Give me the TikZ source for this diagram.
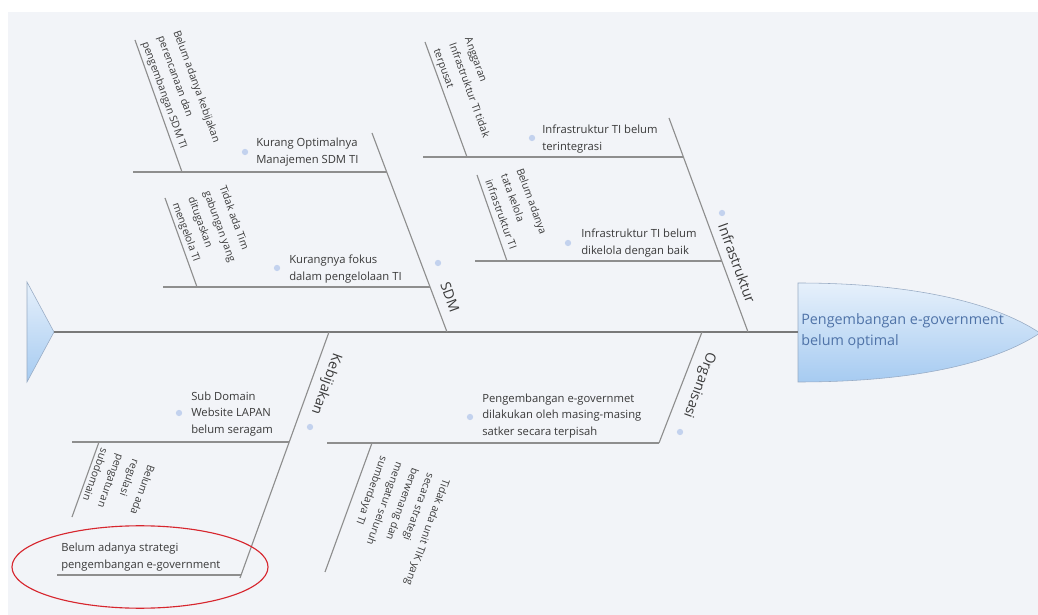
\documentclass[tikz,border=0pt]{standalone}
\usepackage{fontspec}
\setmainfont{Open Sans}
\usepackage{xcolor}
\usepackage{tikz}
\usetikzlibrary{positioning}

\definecolor{bgfish}{HTML}{F2F4F8}
\definecolor{bonegray}{HTML}{8E8E8E}
\definecolor{txtgray}{HTML}{3A3A3A}
\definecolor{dotblue}{HTML}{C3D2EE}
\definecolor{headtop}{HTML}{E6F0FB}
\definecolor{headbot}{HTML}{A6CBF1}
\definecolor{headline}{HTML}{98ABC4}
\definecolor{headtxt}{HTML}{4F73A8}
\definecolor{markred}{HTML}{D7262E}

\begin{document}
\begin{tikzpicture}[
  x=0.025cm, y=-0.025cm,
  bone/.style={draw=bonegray, line width=0.8pt},
  spine/.style={draw=bonegray!85!black, line width=1pt},
  cause/.style={font=\fontsize{8}{11.8}\selectfont, text=txtgray, align=left, anchor=west, inner sep=0pt},
  detail/.style={font=\fontsize{7.4}{11.8}\selectfont, text=txtgray, align=left, anchor=north west, inner sep=0pt},
  cat/.style={font=\fontsize{10}{12}\selectfont, text=txtgray, inner sep=0pt},
  dot/.style={circle, fill=dotblue, inner sep=0pt, minimum size=4.5pt},
  headlbl/.style={font=\fontsize{10.2}{15}\selectfont, text=headtxt, align=left, anchor=west, inner sep=0pt}
]
  \useasboundingbox (0,0) rectangle (1038,615);
  \fill[bgfish] (8,12) rectangle (1038,615);

  % tail and head of the fish
  \draw[draw=headline, top color=headtop, bottom color=headbot] (27,282) -- (54,332) -- (27,382) -- cycle;
  \draw[draw=headline, top color=headtop, bottom color=headbot]
    (798,283) .. controls (905,283) and (990,300) .. (1040,333)
    .. controls (990,366) and (905,382) .. (798,382) -- cycle;
  \coordinate (tail) at (54,332);
  \coordinate (head) at (798,332);
  \draw[spine] (tail) -- (head);
  \node[headlbl] (effect) at (801,331) {Pengembangan e-government\\belum optimal};

  % SDM bone
  \coordinate (sdmTop) at (372,133);
  \coordinate (sdmBase) at (447,332);
  \coordinate (s1l) at (133,172);  \coordinate (s1r) at (387,172);
  \coordinate (s2l) at (163,287);  \coordinate (s2r) at (430,287);
  \coordinate (d1t) at (135,40);   \coordinate (d1b) at (182,172);
  \coordinate (d2t) at (165,198);  \coordinate (d2b) at (197,287);
  \node[dot] (bs1) at (245,152) {};
  \node[cause] (c1) at (256,152) {Kurang Optimalnya\\Manajemen SDM TI};
  \node[dot] (bs2) at (277,268) {};
  \node[cause] (c2) at (289,269) {Kurangnya fokus\\dalam pengelolaan TI};
  \node[detail, rotate=-70] (t1) at (181,29) {Belum adanya kebijakan\\perencanaan dan\\pengembangan SDM TI};
  \node[detail, rotate=-70] (t2) at (227,184) {Tidak ada Tim\\gabungan yang\\ditugaskan\\mengelola TI};
  \node[dot] (bsdm) at (438,263) {};
  \node[cat, rotate=-70] (sdm) at (450,297) {SDM};

  % Infrastruktur bone
  \coordinate (infTop) at (669,118);
  \coordinate (infBase) at (748,332);
  \coordinate (i1l) at (423,157);  \coordinate (i1r) at (683,157);
  \coordinate (i2l) at (475,261);  \coordinate (i2r) at (722,261);
  \coordinate (d3t) at (425,42);   \coordinate (d3b) at (467,157);
  \coordinate (d4t) at (477,175);  \coordinate (d4b) at (507,261);
  \node[dot] (bi1) at (532,138) {};
  \node[cause] (c3) at (542,139) {Infrastruktur TI belum\\terintegrasi};
  \node[dot] (bi2) at (568,243) {};
  \node[cause] (c4) at (581,243) {Infrastruktur TI belum\\dikelola dengan baik};
  \node[detail, rotate=-70] (t3) at (472,36) {Anggaran\\Infrastruktur TI tidak\\terpusat};
  \node[detail, rotate=-70] (t4) at (524,167) {Belum adanya\\tata kelola\\infrastruktur TI};
  \node[dot] (binf) at (722,213) {};
  \node[cat, rotate=-70] (inf) at (737,263) {Infrastruktur};

  % Kebijakan bone
  \coordinate (kebBase) at (329,332);
  \coordinate (kebEnd) at (240,578);
  \coordinate (k1l) at (72,442);   \coordinate (k1r) at (289,442);
  \coordinate (k2l) at (57,575);   \coordinate (k2r) at (241,575);
  \coordinate (d5t) at (99,442);   \coordinate (d5b) at (72,517);
  \node[dot] (bk1) at (179,413) {};
  \node[cause] (c5) at (191,414) {Sub Domain\\Website LAPAN\\belum seragam};
  \node[cause] (c7) at (61,557) {Belum adanya strategi\\pengembangan e-government};
  \node[detail, rotate=-110] (t5) at (156,467) {Belum ada\\regulasi\\pengaturan\\subdomain};
  \node[dot] (bkeb) at (310,427) {};
  \node[cat, rotate=-110] (keb) at (326,384) {Kebijakan};

  % Organisasi bone
  \coordinate (orgBase) at (702,332);
  \coordinate (orgEnd) at (659,443);
  \coordinate (o1l) at (327,443);  \coordinate (o1r) at (659,443);
  \coordinate (d6t) at (372,443);  \coordinate (d6b) at (325,572);
  \node[dot] (bo1) at (470,417) {};
  \node[cause] (c6) at (482,416) {Pengembangan e-governmet\\dilakukan oleh masing-masing\\satker secara terpisah};
  \node[detail, rotate=-110] (t6) at (451,481) {Tidak ada unit TIK yang\\secara strategi\\berwenang dan\\mengatur seluruh\\sumberdaya TI};
  \node[dot] (borg) at (680,432) {};
  \node[cat, rotate=-110] (org) at (699,385) {Organisasi};

  % bones, ribs and detail lines
  \foreach \a/\b in {sdmTop/sdmBase, infTop/infBase, kebBase/kebEnd, orgBase/orgEnd,
                     s1l/s1r, s2l/s2r, i1l/i1r, i2l/i2r, k1l/k1r, k2l/k2r, o1l/o1r,
                     d1t/d1b, d2t/d2b, d3t/d3b, d4t/d4b, d5t/d5b, d6t/d6b} {
    \draw[bone] (\a) -- (\b);
  }

  % red mark
  \coordinate (mark) at (140,567);
  \draw[markred, line width=0.8pt] (mark) ellipse [x radius=3.2cm, y radius=1.03cm];
\end{tikzpicture}
\end{document}
